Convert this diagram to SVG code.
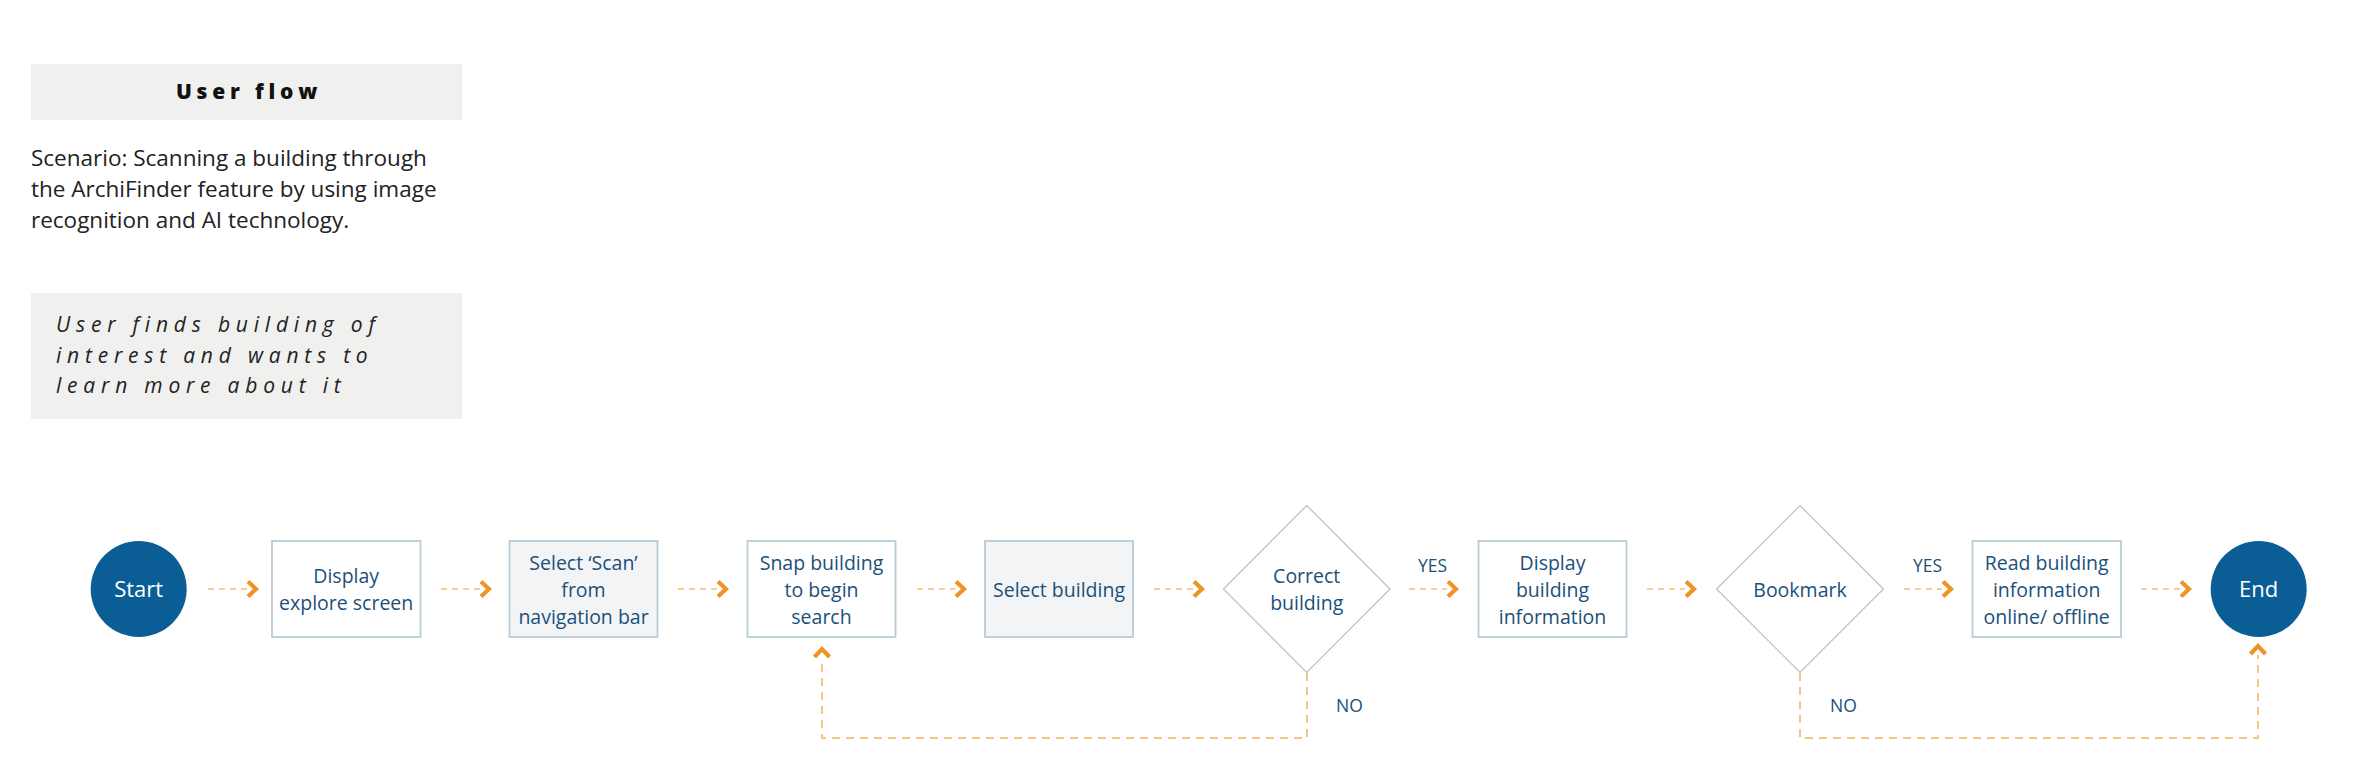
<svg xmlns="http://www.w3.org/2000/svg" xmlns:xlink="http://www.w3.org/1999/xlink" width="2357" height="778" viewBox="0 0 2357 778">
<style>
.panel{fill:#f0f0ef}
.title{font-family:"Open Sans","Liberation Sans",sans-serif;font-weight:800;font-size:21px;letter-spacing:4.8px;fill:#111;text-anchor:middle}
.scen{font-family:"Open Sans","Liberation Sans",sans-serif;font-size:22.5px;fill:#222}
.ital{font-family:"Open Sans","Liberation Sans",sans-serif;font-style:italic;font-size:21px;letter-spacing:5.8px;fill:#222}
.box{fill:#ffffff;stroke:#b9ccd6;stroke-width:1.8}
.box.g{fill:#f3f4f5}
.dia{fill:#ffffff;stroke:#b4c1ca;stroke-width:1.2}
.term{fill:#0b5d95}
.t{font-family:"Open Sans","Liberation Sans",sans-serif;font-weight:500;font-size:19.5px;fill:#1b5079;text-anchor:middle}
.tw{font-family:"Open Sans","Liberation Sans",sans-serif;font-weight:500;font-size:22px;fill:#ffffff;text-anchor:middle}
.lbl{font-family:"Open Sans","Liberation Sans",sans-serif;font-weight:500;font-size:17.5px;fill:#1b5079}
.dash{fill:none;stroke:#f2bd78;stroke-width:1.5;stroke-dasharray:6 5}
.loop{fill:none;stroke:#f3c685;stroke-width:2;stroke-dasharray:8 6}
.chev{fill:none;stroke:#ef9424;stroke-width:4.2;stroke-linejoin:miter}
</style>
<defs>
<path id="chevR" d="M-11,-7.5 L-3,0 L-11,7.5"/>
</defs>
<rect width="2357" height="778" fill="#ffffff"/>

<g id="title">
<rect class="panel" x="31" y="64" width="431" height="56"/>
<text class="title" x="249" y="99">User flow</text>
</g>
<g id="scenario">
<text class="scen" x="31" y="166">Scenario: Scanning a building through</text>
<text class="scen" x="31" y="197">the ArchiFinder feature by using image</text>
<text class="scen" x="31" y="228">recognition and AI technology.</text>
</g>
<g id="trigger">
<rect class="panel" x="31" y="293" width="431" height="126"/>
<text class="ital" x="56" y="332">User finds building of</text>
<text class="ital" x="56" y="363">interest and wants to</text>
<text class="ital" x="56" y="393">learn more about it</text>
</g>

<g id="connectors">
<line class="dash" x1="208" y1="589" x2="247" y2="589"/>
<use xlink:href="#chevR" class="chev" transform="translate(259,589)"/>
<line class="dash" x1="441" y1="589" x2="480" y2="589"/>
<use xlink:href="#chevR" class="chev" transform="translate(492,589)"/>
<line class="dash" x1="678" y1="589" x2="717" y2="589"/>
<use xlink:href="#chevR" class="chev" transform="translate(729,589)"/>
<line class="dash" x1="917" y1="589" x2="955" y2="589"/>
<use xlink:href="#chevR" class="chev" transform="translate(967,589)"/>
<line class="dash" x1="1154" y1="589" x2="1193" y2="589"/>
<use xlink:href="#chevR" class="chev" transform="translate(1205,589)"/>
<line class="dash" x1="1409" y1="589" x2="1447" y2="589"/>
<use xlink:href="#chevR" class="chev" transform="translate(1459,589)"/>
<line class="dash" x1="1647" y1="589" x2="1685" y2="589"/>
<use xlink:href="#chevR" class="chev" transform="translate(1697,589)"/>
<line class="dash" x1="1904" y1="589" x2="1942" y2="589"/>
<use xlink:href="#chevR" class="chev" transform="translate(1954,589)"/>
<line class="dash" x1="2141" y1="589" x2="2180" y2="589"/>
<use xlink:href="#chevR" class="chev" transform="translate(2192,589)"/>
<path class="loop" d="M1307,673 V738 H822 V658"/>
<use xlink:href="#chevR" class="chev" transform="translate(822,646) rotate(-90)"/>
<path class="loop" d="M1800,673 V738 H2258 V655"/>
<use xlink:href="#chevR" class="chev" transform="translate(2258,643) rotate(-90)"/>
<text class="lbl" x="1432.5" y="572" text-anchor="middle">YES</text>
<text class="lbl" x="1927.5" y="572" text-anchor="middle">YES</text>
<text class="lbl" x="1336" y="712">NO</text>
<text class="lbl" x="1830" y="712">NO</text>
</g>

<g id="start">
<circle class="term" cx="138.7" cy="589" r="48"/>
<text class="tw" x="138.7" y="597">Start</text>
</g>
<g id="display-explore">
<rect class="box" x="272" y="541" width="148.5" height="96"/>
<text class="t" x="346.2" y="583">Display</text>
<text class="t" x="346.2" y="610">explore screen</text>
</g>
<g id="select-scan">
<rect class="box g" x="509.5" y="541" width="148" height="96"/>
<text class="t" x="583.5" y="569.5">Select ‘Scan’</text>
<text class="t" x="583.5" y="596.5">from</text>
<text class="t" x="583.5" y="623.5">navigation bar</text>
</g>
<g id="snap-building">
<rect class="box" x="747.5" y="541" width="148" height="96"/>
<text class="t" x="821.5" y="569.5">Snap building</text>
<text class="t" x="821.5" y="596.5">to begin</text>
<text class="t" x="821.5" y="623.5">search</text>
</g>
<g id="select-building">
<rect class="box g" x="985" y="541" width="148" height="96"/>
<text class="t" x="1059" y="596.5">Select building</text>
</g>
<g id="correct-building">
<polygon class="dia" points="1306.7,505.5 1390,589 1306.7,672.5 1223.4,589"/>
<text class="t" x="1306.7" y="583">Correct</text>
<text class="t" x="1306.7" y="609.5">building</text>
</g>
<g id="display-info">
<rect class="box" x="1478.5" y="541" width="148" height="96"/>
<text class="t" x="1552.5" y="569.5">Display</text>
<text class="t" x="1552.5" y="596.5">building</text>
<text class="t" x="1552.5" y="623.5">information</text>
</g>
<g id="bookmark">
<polygon class="dia" points="1800,505.5 1883.5,589 1800,672.5 1716.5,589"/>
<text class="t" x="1800" y="596.5">Bookmark</text>
</g>
<g id="read-info">
<rect class="box" x="1972.5" y="541" width="148.5" height="96"/>
<text class="t" x="2046.7" y="569.5">Read building</text>
<text class="t" x="2046.7" y="596.5">information</text>
<text class="t" x="2046.7" y="623.5">online/ offline</text>
</g>
<g id="end">
<circle class="term" cx="2258.7" cy="589" r="48"/>
<text class="tw" x="2258.7" y="597">End</text>
</g>
</svg>
